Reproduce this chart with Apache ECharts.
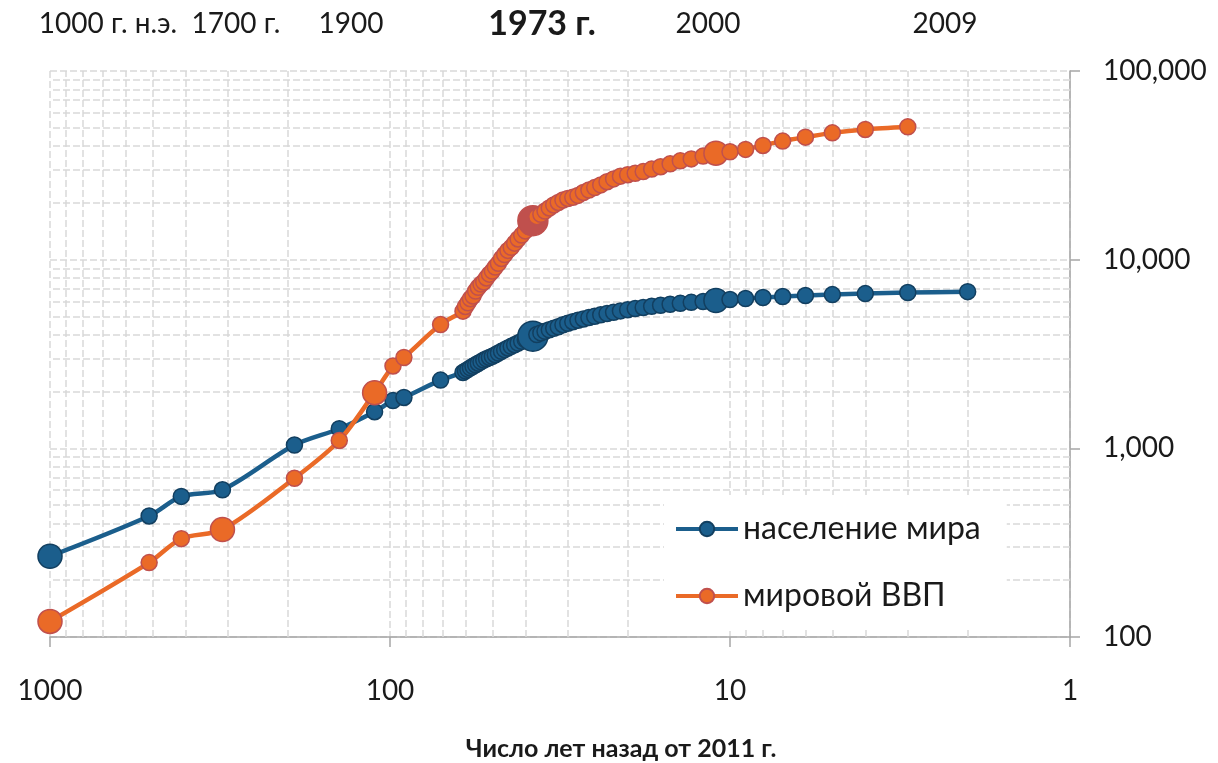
<!DOCTYPE html>
<html>
<head>
<meta charset="utf-8">
<script src="https://cdn.jsdelivr.net/npm/echarts@6/dist/echarts.min.js"></script>
<style>
  html, body { margin: 0; padding: 0; background: #fff; }
  #chart { width: 1218px; height: 763px; }
</style>
</head>
<body>
<div id="chart"></div>
<script>
// Years (AD). The x axis shows "years before 2011".
const popYears = [1000, 1500, 1600, 1700, 1820, 1870, 1900, 1913, 1920, 1940,
  1950, 1951, 1952, 1953, 1954, 1955, 1956, 1957, 1958, 1959,
  1960, 1961, 1962, 1963, 1964, 1965, 1966, 1967, 1968, 1969,
  1970, 1971, 1972, 1973, 1974, 1975, 1976, 1977, 1978, 1979,
  1980, 1981, 1982, 1983, 1984, 1985, 1986, 1987, 1988, 1989,
  1990, 1991, 1992, 1993, 1994, 1995, 1996, 1997, 1998, 1999,
  2000, 2001, 2002, 2003, 2004, 2005, 2006, 2007, 2008, 2009];

// World population, millions
const popValues = [268, 438, 556, 603, 1041, 1270, 1563, 1791, 1860, 2299,
  2525, 2573, 2621, 2670, 2721, 2773, 2826, 2881, 2936, 2983,
  3032, 3075, 3134, 3200, 3266, 3334, 3403, 3471, 3541, 3614,
  3692, 3766, 3840, 3930, 4010, 4090, 4170, 4250, 4330, 4410,
  4520, 4600, 4690, 4770, 4850, 4930, 5010, 5100, 5180, 5260,
  5350, 5430, 5510, 5580, 5660, 5730, 5800, 5870, 5940, 6000,
  6072, 6148, 6224, 6300, 6376, 6453, 6530, 6608, 6694, 6766];

const gdpYears = [1000, 1500, 1600, 1700, 1820, 1870, 1900, 1913, 1920, 1940,
  1950, 1951, 1952, 1953, 1954, 1955, 1956, 1957, 1958, 1959,
  1960, 1961, 1962, 1963, 1964, 1965, 1966, 1967, 1968, 1969,
  1970, 1971, 1972, 1973, 1974, 1975, 1976, 1977, 1978, 1979,
  1980, 1981, 1982, 1983, 1984, 1985, 1986, 1987, 1988, 1989,
  1990, 1991, 1992, 1993, 1994, 1995, 1996, 1997, 1998, 1999,
  2000, 2001, 2002, 2003, 2004, 2005, 2006, 2007, 2008];

// World GDP, billions
const gdpValues = [121, 248, 332, 371, 694, 1101, 1973, 2733, 3030, 4530,
  5336, 5650, 5910, 6210, 6420, 6820, 7140, 7420, 7620, 8000,
  8380, 8700, 9140, 9560, 10150, 10650, 11200, 11620, 12230, 12870,
  13500, 14200, 15000, 16100, 16900, 17400, 18100, 18800, 19500, 20100,
  20700, 21100, 21400, 21900, 22700, 23400, 24100, 24900, 25900, 26800,
  27700, 28200, 28700, 29300, 30200, 31100, 32200, 33400, 34200, 35400,
  36700, 37300, 38400, 40300, 42500, 44600, 47000, 49000, 50600];

const seriesNames = ['население мира', 'мировой ВВП'];
const topLabels = ['1000 г. н.э.', '1700 г.', '1900', '1973 г.', '2000', '2009'];
const xAxisTitle = 'Число лет назад от 2011 г.';

// layout / style (kept apart from the data)
const topLabelX = [108, 236, 351, 542, 708, 945];
const topLabelBold = [false, false, false, true, false, false];
const popBig = { 1000: 24, 1973: 30, 2000: 24 };
const gdpBig = { 1000: 24, 1700: 24, 1900: 24, 1973: 30, 2000: 24 };
const FONT = 'Lato, "Noto Sans", sans-serif';
const BLUE = '#1b5e8c', BLUE_EDGE = '#123f60';
const ORANGE = '#ea6a27', ORANGE_EDGE = '#c0504d';
const GRID = '#d9d9d9', AXIS = '#a6a6a6', TEXT = '#1a1a1a';

// the year-1000 point sits on the left edge of the axis (1000 years)
const yearsAgo = y => Math.min(2011 - y, 1000);

const popData = popYears.map((y, i) => {
  const p = { value: [yearsAgo(y), popValues[i]] };
  if (popBig[y]) p.symbolSize = popBig[y];
  return p;
});
const gdpData = gdpYears.map((y, i) => {
  const p = { value: [yearsAgo(y), gdpValues[i]] };
  if (gdpBig[y]) p.symbolSize = gdpBig[y];
  if (y === 1973) p.itemStyle = { color: ORANGE_EDGE };
  return p;
});

// minor log gridlines (2..9 in every decade)
const minorX = [], minorY = [];
[1, 10, 100].forEach(d => { for (let k = 2; k <= 9; k++) minorX.push({ xAxis: k * d }); });
[100, 1000, 10000].forEach(d => { for (let k = 2; k <= 9; k++) minorY.push({ yAxis: k * d }); });

const dash = { color: GRID, type: [7, 3], width: 1.5 };

const chart = echarts.init(document.getElementById('chart'));
chart.setOption({
  animation: false,
  textStyle: { fontFamily: FONT },
  grid: { left: 50, right: 148, top: 71, bottom: 126 },
  legend: {
    data: seriesNames,
    orient: 'vertical',
    left: 664,
    top: 495,
    backgroundColor: '#fff',
    padding: [18, 26, 18, 10],
    itemGap: 35,
    itemWidth: 62,
    itemHeight: 18,
    lineStyle: { width: 4 },
    textStyle: { fontSize: 32, color: TEXT, fontFamily: FONT, lineHeight: 32 }
  },
  xAxis: {
    type: 'log',
    logBase: 10,
    min: 1,
    max: 1000,
    inverse: true,
    axisLine: { show: true, onZero: false, lineStyle: { color: AXIS, width: 1.5 } },
    axisTick: { show: true, length: 10, lineStyle: { color: AXIS, width: 1.5 } },
    axisLabel: { fontSize: 28, color: TEXT, margin: 40, fontFamily: FONT, formatter: v => String(v) },
    splitLine: { show: true, lineStyle: dash }
  },
  yAxis: {
    type: 'log',
    logBase: 10,
    position: 'right',
    min: 100,
    max: 100000,
    axisLine: { show: true, onZero: false, lineStyle: { color: AXIS, width: 1.5 } },
    axisTick: { show: true, length: 10, lineStyle: { color: AXIS, width: 1.5 } },
    axisLabel: {
      fontSize: 28, color: TEXT, margin: 33, fontFamily: FONT,
      formatter: v => Number(v).toLocaleString('en-US')
    },
    splitLine: { show: true, lineStyle: dash }
  },
  graphic: topLabels.map((t, i) => ({
    type: 'text',
    x: topLabelX[i],
    y: 24,
    style: {
      text: t,
      fill: TEXT,
      align: 'center',
      verticalAlign: 'middle',
      font: (topLabelBold[i] ? 'bold 34px ' : '28px ') + FONT
    }
  })).concat([{
    type: 'text',
    x: 621,
    y: 749,
    style: {
      text: xAxisTitle,
      fill: TEXT,
      align: 'center',
      verticalAlign: 'middle',
      font: 'bold 25px ' + FONT
    }
  }]),
  series: [
    {
      name: 'minor-grid',
      type: 'line',
      data: [],
      z: 1,
      silent: true,
      markLine: {
        silent: true,
        z: 1,
        symbol: ['none', 'none'],
        label: { show: false },
        lineStyle: dash,
        data: minorX.concat(minorY)
      }
    },
    {
      name: seriesNames[0],
      type: 'line',
      data: popData,
      smooth: 0.3,
      symbol: 'circle',
      symbolSize: 16,
      lineStyle: { color: BLUE, width: 4.5 },
      itemStyle: { color: BLUE, borderColor: BLUE_EDGE, borderWidth: 1.5 },
      z: 3
    },
    {
      name: seriesNames[1],
      type: 'line',
      data: gdpData,
      smooth: 0.3,
      symbol: 'circle',
      symbolSize: 16,
      lineStyle: { color: ORANGE, width: 4.5 },
      itemStyle: { color: ORANGE, borderColor: ORANGE_EDGE, borderWidth: 1.5 },
      z: 4
    }
  ]
});
</script>
</body>
</html>
